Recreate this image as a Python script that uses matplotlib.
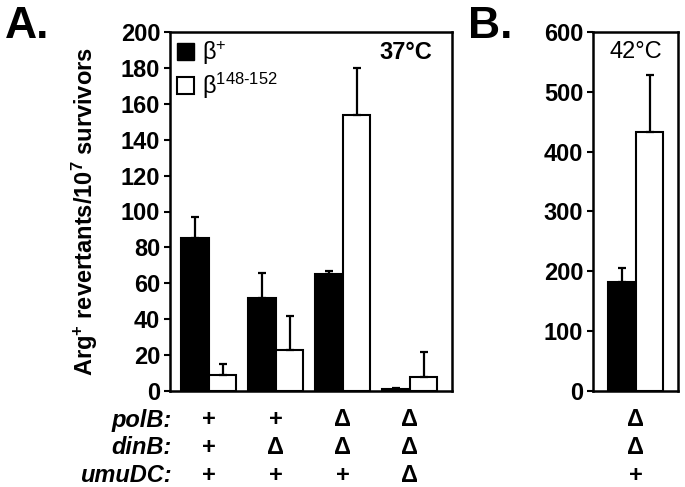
import numpy as np
import matplotlib
matplotlib.use('Agg')
import matplotlib.pyplot as plt
from matplotlib.patches import Patch

plt.rcParams['font.family'] = ['Liberation Sans', 'DejaVu Sans']
plt.rcParams['mathtext.fontset'] = 'custom'
plt.rcParams['mathtext.rm'] = 'Liberation Sans'
plt.rcParams['mathtext.bf'] = 'Liberation Sans:bold'
plt.rcParams['mathtext.it'] = 'Liberation Sans:italic'

# Panel A data (37 C)
wt_a = [85, 52, 65, 1]
wt_a_err = [12, 14, 2, 0.5]
mut_a = [9, 23, 154, 8]
mut_a_err = [6, 19, 26, 14]
polB = ['+', '+', 'Δ', 'Δ']
dinB = ['+', 'Δ', 'Δ', 'Δ']
umuDC = ['+', '+', '+', 'Δ']

# Panel B data (42 C)
wt_b = [183]
wt_b_err = [22]
mut_b = [433]
mut_b_err = [95]
polB_b = ['Δ']
dinB_b = ['Δ']
umuDC_b = ['+']

W, H = 685, 487
FS = 17
fig = plt.figure(figsize=(W / 100, H / 100), dpi=100)

def px_axes(x0, x1, y0, y1):
    return fig.add_axes([x0 / W, 1 - y1 / H, (x1 - x0) / W, (y1 - y0) / H])

axA = px_axes(170, 452, 32, 391)
axB = px_axes(593, 678, 32, 391)

bw = 0.41

def draw(ax, wt, wt_err, mut, mut_err):
    x = np.arange(len(wt))
    ax.bar(x - bw / 2, wt, bw, color='black', edgecolor='black', linewidth=1.5)
    ax.bar(x + bw / 2, mut, bw, color='white', edgecolor='black', linewidth=1.5)
    zero = np.zeros(len(wt))
    ax.errorbar(x - bw / 2, wt, yerr=[zero, wt_err], fmt='none', ecolor='black',
                elinewidth=1.6, capsize=3, capthick=1.6)
    ax.errorbar(x + bw / 2, mut, yerr=[zero, mut_err], fmt='none', ecolor='black',
                elinewidth=1.6, capsize=3, capthick=1.6)
    for s in ax.spines.values():
        s.set_linewidth(1.8)
    ax.set_xticks([])
    ax.tick_params(axis='y', length=4, width=1.5, labelsize=FS, pad=3)
    return x

xa = draw(axA, wt_a, wt_a_err, mut_a, mut_a_err)
axA.set_xlim(-0.58, 3.63)
axA.set_ylim(0, 200)
axA.set_yticks(np.arange(0, 201, 20))
for lab in axA.get_yticklabels():
    lab.set_fontweight('bold')
axA.set_ylabel('Arg$^{\\mathbf{+}}$ revertants/10$^{\\mathbf{7}}$ survivors',
               fontsize=FS, fontweight='bold')
axA.yaxis.set_label_coords(-0.25, 0.5)

xb = draw(axB, wt_b, wt_b_err, mut_b, mut_b_err)
axB.set_xlim(-0.64, 0.63)
axB.set_ylim(0, 600)
axB.set_yticks(np.arange(0, 601, 100))
for lab in axB.get_yticklabels():
    lab.set_fontweight('bold')

handles = [Patch(facecolor='black', edgecolor='black'),
           Patch(facecolor='white', edgecolor='black', linewidth=1.5)]
axA.legend(handles, ['β$^{+}$', 'β$^{148\\text{-}152}$'], loc='upper left',
           frameon=False, fontsize=FS, handlelength=0.72, handleheight=0.72,
           handletextpad=0.35, labelspacing=0.15, borderaxespad=0.0,
           borderpad=0.3, bbox_to_anchor=(0.0, 1.0))

axA.text(0.93, 0.944, '37°C', transform=axA.transAxes, ha='right', va='center',
         fontsize=FS, fontweight='bold')
axB.text(0.5, 0.944, '42°C', transform=axB.transAxes, ha='center', va='center',
         fontsize=FS)

fig.text(5 / W, 1 - 27 / H, 'A.', fontsize=32, fontweight='bold', va='center')
fig.text(468 / W, 1 - 27 / H, 'B.', fontsize=32, fontweight='bold', va='center')

rows = [('polB', polB, polB_b, 420), ('dinB', dinB, dinB_b, 448),
        ('umuDC', umuDC, umuDC_b, 475)]
for name, va_, vb_, ypx in rows:
    y = 1 - ypx / H
    fig.text(172 / W, y, name + ':', ha='right', va='center', fontsize=FS,
             fontweight='bold', style='italic')
    for xi, s in zip(xa, va_):
        xd = axA.transData.transform((xi, 0))[0]
        fig.text(xd / W, y, s, ha='center', va='center', fontsize=FS,
                 fontweight='bold')
    for xi, s in zip(xb, vb_):
        xd = axB.transData.transform((xi, 0))[0]
        fig.text(xd / W, y, s, ha='center', va='center', fontsize=FS,
                 fontweight='bold')

fig.savefig('out.png', dpi=100)
